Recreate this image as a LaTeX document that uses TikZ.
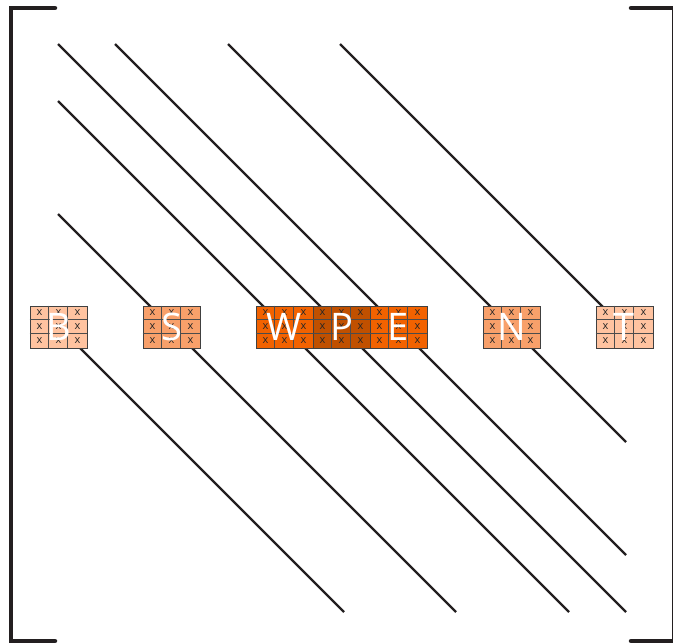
\documentclass[tikz,border=0pt]{standalone}
\usepackage{fontspec}
\setmainfont{Open Sans}
\definecolor{lightc}{HTML}{FFC3A0}
\definecolor{midc}{HTML}{F8A06A}
\definecolor{vivc}{HTML}{F26200}
\definecolor{darkc}{HTML}{C05000}
\definecolor{inkc}{HTML}{231F20}
\tikzset{
  diag/.style={draw=inkc, line width=2.2pt},
  bracket/.style={draw=inkc, line width=4.5pt, line cap=round},
  boxn/.style={draw=black!75, line width=0.8pt, inner sep=0pt, minimum width=57pt, minimum height=42pt},
  gridl/.style={draw=black!70, line width=0.7pt},
  cellx/.style={text=black!85, font=\fontsize{11}{11}\selectfont, inner sep=0pt},
  bigl/.style={text=white, font=\fontsize{38}{38}\selectfont, inner sep=0pt}
}
\newcommand\bandbox[4]{%
  \node[boxn, fill=#3] (#1) at (#2,327) {};
  \foreach \k in {1,2}{%
    \draw[gridl] ($(#1.north west)+(19*\k,0)$) -- ($(#1.south west)+(19*\k,0)$);
    \draw[gridl] ($(#1.north west)+(0,14*\k)$) -- ($(#1.north east)+(0,14*\k)$);
  }
  \foreach \i in {-1,0,1}{\foreach \j in {-1,0,1}{%
    \node[cellx] at ($(#1)+(19*\i,14*\j)$) {x};}}
  \node[bigl] (#1L) at (#1) {#4};
}
\usetikzlibrary{calc}
\begin{document}
\begin{tikzpicture}[x=1pt,y=-1pt]
\useasboundingbox (0,0) rectangle (673,643);
% brackets
\draw[bracket] (55,8) -- (11,8) -- (11,641) -- (55,641);
\draw[bracket] (631,8) -- (676,8);
\draw[bracket] (631,641) -- (676,641);
\draw[draw=inkc, line width=4.5pt] (674.5,8) -- (674.5,641);
% diagonals
\coordinate (m0) at (58,44);
\coordinate (m1) at (626,612);
\draw[diag] (m0) -- (m1);
\foreach \d in {57,170,282}{%
  \draw[diag] (58,44+\d) -- (626-\d,612);
  \draw[diag] (58+\d,44) -- (626,612-\d);
}
% band boxes
\bandbox{B}{58.5}{lightc}{B}
\bandbox{S}{171.5}{midc}{S}
\bandbox{W}{284.5}{vivc}{W}
\bandbox{P}{341.5}{darkc}{P}
\bandbox{E}{398.5}{vivc}{E}
\bandbox{N}{511.5}{midc}{N}
\bandbox{T}{624.5}{lightc}{T}
\end{tikzpicture}
\end{document}
